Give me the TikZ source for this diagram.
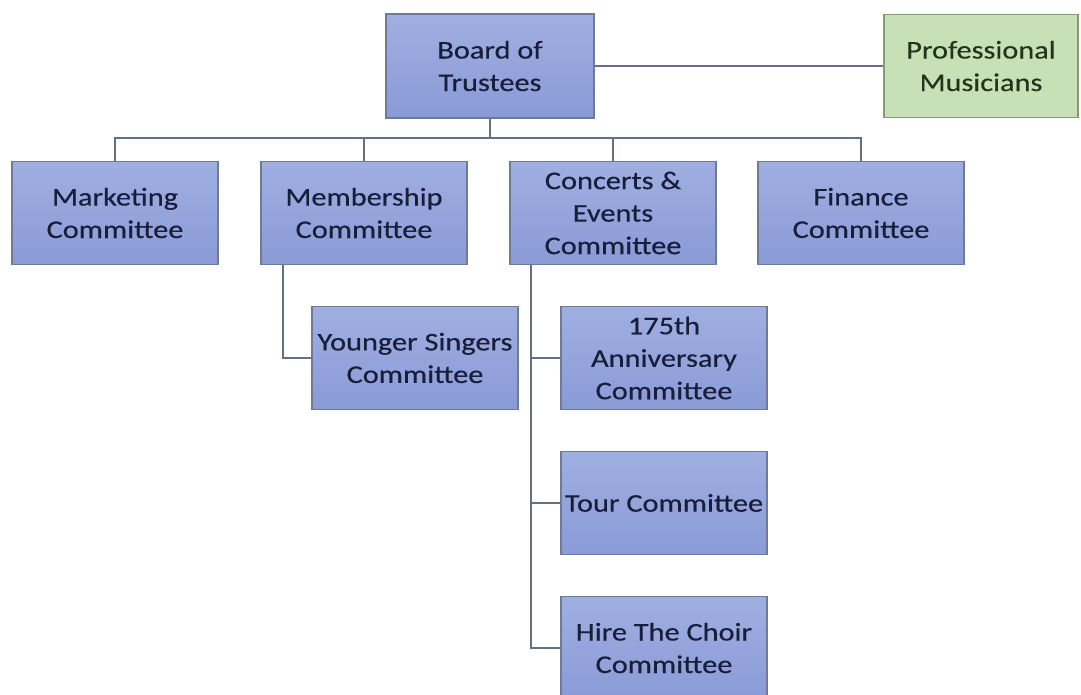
\documentclass[tikz,border=0pt]{standalone}
\usepackage{fontspec}
\setmainfont{Carlito}[FakeStretch=1.19, FakeBold=0.4]
\definecolor{boxtop}{RGB}{160,175,225}
\definecolor{boxbot}{RGB}{138,154,214}
\definecolor{boxedge}{RGB}{110,122,150}
\definecolor{txtblue}{RGB}{24,30,58}
\definecolor{grfill}{RGB}{200,224,182}
\definecolor{gredge}{RGB}{130,155,115}
\definecolor{txtgreen}{RGB}{36,52,28}
\definecolor{linec}{RGB}{100,112,135}
\tikzset{
  unit/.style={rectangle, top color=boxtop, bottom color=boxbot, draw=boxedge, line width=1.2pt,
    minimum width=206pt, minimum height=103pt, inner sep=0pt, align=center,
    text=txtblue, font=\fontsize{25.5}{32.5}\selectfont},
  greenbox/.style={unit, top color=grfill, bottom color=grfill, draw=gredge, text=txtgreen,
    minimum width=194pt},
  conn/.style={draw=linec, line width=1.4pt}
}
\begin{document}
\begin{tikzpicture}[x=1pt,y=-1pt]
\useasboundingbox[fill=white] (0,0) rectangle (1081,695);
\node[unit, minimum width=208pt, minimum height=104pt] (board) at (490,66) {Board of\\Trustees};
\node[greenbox] (prof) at (981,66) {Professional\\Musicians};
\node[unit] (mark) at (115,213) {Marketing\\Committee};
\node[unit] (memb) at (364,213) {Membership\\Committee};
\node[unit] (conc) at (613,213) {Concerts \&\\Events\\Committee};
\node[unit] (fin) at (861,213) {Finance\\Committee};
\node[unit] (young) at (415,358) {Younger Singers\\Committee};
\node[unit] (anniv) at (664,358) {175th\\Anniversary\\Committee};
\node[unit] (tour) at (664,503) {Tour Committee};
\node[unit] (hire) at (664,648) {Hire The Choir\\Committee};
\coordinate (bus) at (490,138);
\coordinate (mspine) at (283,0);
\coordinate (cspine) at (531,0);
\draw[conn] (board.east) -- (prof.west);
\draw[conn] (board.south) -- (bus);
\draw[conn] (bus) -| (mark.north);
\draw[conn] (bus) -| (memb.north);
\draw[conn] (bus) -| (conc.north);
\draw[conn] (bus) -| (fin.north);
\draw[conn] (memb.south -| mspine) |- (young.west);
\draw[conn] (conc.south -| cspine) |- (hire.west);
\draw[conn] (anniv.west -| cspine) -- (anniv.west);
\draw[conn] (tour.west -| cspine) -- (tour.west);
\end{tikzpicture}
\end{document}
